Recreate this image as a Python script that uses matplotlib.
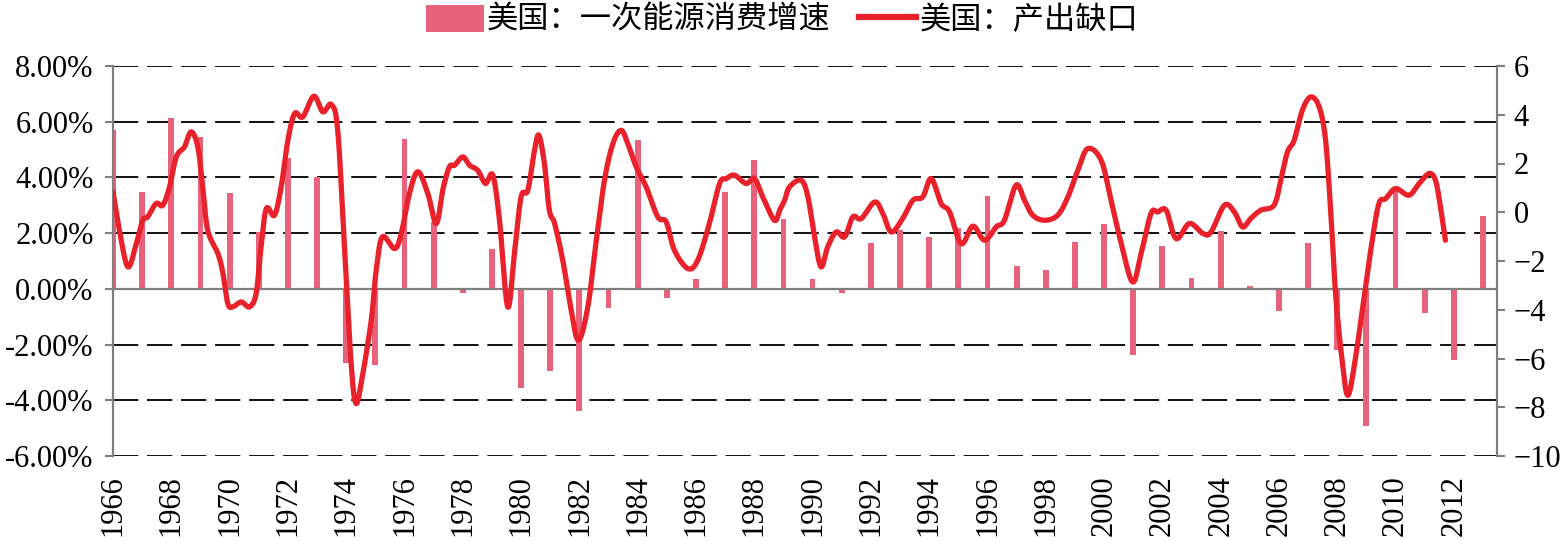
import numpy as np
import matplotlib
matplotlib.use("Agg")
import matplotlib.pyplot as plt
from matplotlib.lines import Line2D
from matplotlib.patches import Patch

# ---------------- data ----------------
years = list(range(1966, 2014))
energy_growth = [5.70, 3.49, 6.13, 5.45, 3.44, 2.05, 4.70, 4.00, -2.66, -2.73,
                 5.38, 2.40, -0.15, 1.44, -3.55, -2.94, -4.40, -0.68, 5.35, -0.33,
                 0.36, 3.46, 4.63, 2.50, 0.36, -0.15, 1.64, 2.12, 1.86, 2.20,
                 3.34, 0.83, 0.66, 1.70, 2.33, -2.37, 1.54, 0.39, 2.06, 0.10,
                 -0.81, 1.66, -2.20, -4.94, 3.55, -0.87, -2.55, 2.63]

gap_t = [1966.00, 1966.22, 1966.51, 1966.80, 1967.02, 1967.19, 1967.48, 1967.71, 1967.94,
         1968.17, 1968.45, 1968.68, 1968.91, 1969.08, 1969.25, 1969.60, 1969.77, 1969.94,
         1970.11, 1970.40, 1970.68, 1970.91, 1971.08, 1971.26, 1971.54, 1971.77, 1972.00,
         1972.23, 1972.51, 1972.89, 1973.20, 1973.49, 1973.71, 1973.94, 1974.17, 1974.34,
         1974.57, 1974.86, 1975.03, 1975.24, 1975.66, 1975.89, 1976.17, 1976.46, 1976.80,
         1977.09, 1977.31, 1977.54, 1977.72, 1978.00, 1978.23, 1978.51, 1978.78, 1979.03,
         1979.26, 1979.54, 1979.77, 1980.00, 1980.23, 1980.46, 1980.61, 1980.80, 1980.97,
         1981.15, 1981.43, 1981.72, 1981.97, 1982.29, 1982.58, 1982.86, 1983.15, 1983.43,
         1983.66, 1983.95, 1984.29, 1984.69, 1984.98, 1985.26, 1985.72, 1986.06, 1986.46,
         1986.81, 1987.04, 1987.32, 1987.72, 1988.01, 1988.29, 1988.69, 1988.87, 1989.04,
         1989.21, 1989.61, 1989.84, 1990.07, 1990.29, 1990.52, 1990.81, 1991.10, 1991.38,
         1991.67, 1992.13, 1992.41, 1992.70, 1993.09, 1993.44, 1993.78, 1994.07, 1994.41,
         1994.70, 1995.10, 1995.50, 1995.90, 1996.30, 1996.58, 1996.98, 1997.27, 1997.55,
         1997.96, 1998.41, 1998.76, 1999.10, 1999.44, 1999.90, 2000.24, 2000.59, 2000.98,
         2001.27, 2001.61, 2001.84, 2002.13, 2002.47, 2002.93, 2003.39, 2003.67, 2004.13,
         2004.47, 2004.75, 2005.03, 2005.37, 2005.83, 2006.06, 2006.29, 2006.52, 2006.80,
         2007.09, 2007.38, 2007.60, 2007.78, 2007.95, 2008.18, 2008.37, 2008.63, 2008.92,
         2009.20, 2009.43, 2009.66, 2010.00, 2010.46, 2010.81, 2011.15, 2011.37, 2011.54,
         2011.71]
gap_v = [0.83, -0.74, -2.24, -1.29, -0.33, -0.19, 0.36, 0.29, 1.04,
         2.27, 2.68, 3.30, 2.68, 1.04, -0.74, -1.70, -2.50, -3.75,
         -3.88, -3.68, -3.88, -3.34, -1.42, 0.15, -0.12, 1.04, 2.95,
         4.05, 3.91, 4.76, 4.12, 4.42, 3.36, -1.42, -6.21, -7.85,
         -6.62, -4.43, -2.38, -1.01, -1.49, -0.87, 0.77, 1.66, 0.77,
         -0.46, 0.90, 1.86, 1.93, 2.27, 1.93, 1.72, 1.18, 1.52,
         -0.33, -3.88, -1.70, 0.63, 0.90, 2.54, 3.16, 2.00, 0.08,
         -0.46, -1.97, -4.02, -5.25, -3.88, -1.15, 1.31, 2.82, 3.36,
         2.82, 1.86, 1.04, -0.19, -0.40, -1.56, -2.31, -1.97, -0.46,
         1.18, 1.38, 1.52, 1.18, 1.38, 0.63, -0.33, 0.08, 0.49,
         1.04, 1.31, 0.63, -1.01, -2.24, -1.42, -0.81, -1.01, -0.19,
         -0.26, 0.42, -0.05, -0.81, -0.26, 0.49, 0.63, 1.38, 0.36,
         0.01, -1.29, -0.57, -1.15, -0.60, -0.33, 1.11, 0.49, -0.12,
         -0.33, -0.12, 0.63, 1.72, 2.61, 2.13, 0.49, -1.29, -2.86,
         -1.70, -0.05, 0.01, 0.08, -1.08, -0.46, -0.87, -0.81, 0.29,
         0.01, -0.60, -0.26, 0.08, 0.29, 1.31, 2.47, 2.95, 4.18,
         4.73, 4.32, 2.95, -0.05, -3.47, -6.21, -7.51, -5.94, -3.47,
         -1.15, 0.36, 0.56, 0.97, 0.70, 1.18, 1.59, 1.31, 0.22,
         -1.15]

left_ticks = [-6, -4, -2, 0, 2, 4, 6, 8]
left_labels = ['-6.00%', '-4.00%', '-2.00%', '0.00%', '2.00%', '4.00%', '6.00%', '8.00%']
right_ticks = [-10, -8, -6, -4, -2, 0, 2, 4, 6]
right_labels = ['\u221210', '\u22128', '\u22126', '\u22124', '\u22122', '0', '2', '4', '6']
xtick_years = list(range(1966, 2013, 2))

label_bar = '美国：一次能源消费增速'
label_line = '美国：产出缺口'

BAR_C = '#E9627B'
LINE_C = '#E8212B'
GREY = '#7F7F7F'


def catmull_rom(x, y, n=12):
    x = np.asarray(x, float)
    y = np.asarray(y, float)
    P = np.column_stack([x, y])
    P = np.vstack([P[0], P, P[-1]])
    out = []
    for i in range(1, len(P) - 2):
        p0, p1, p2, p3 = P[i - 1], P[i], P[i + 1], P[i + 2]
        t = np.linspace(0, 1, n, endpoint=False)[:, None]
        seg = 0.5 * ((2 * p1) + (-p0 + p2) * t + (2 * p0 - 5 * p1 + 4 * p2 - p3) * t ** 2
                     + (-p0 + 3 * p1 - 3 * p2 + p3) * t ** 3)
        out.append(seg)
    out.append(P[-2][None, :])
    out = np.vstack(out)
    return out[:, 0], out[:, 1]


serif = ['Liberation Serif', 'DejaVu Serif']
cjk = ['Noto Sans CJK SC', 'DejaVu Sans']

fig = plt.figure(figsize=(15.67, 5.41), dpi=100)
ax = fig.add_axes([113 / 1567, 1 - 456 / 541, (1497 - 113) / 1567, (456 - 66) / 541])
ax2 = ax.twinx()

# gridlines (dashed) except zero line
for v in left_ticks:
    if v == 0:
        continue
    ax.axhline(v, color='#111111', lw=1.4, dashes=(13, 4.5), zorder=0)

ax.bar(years, energy_growth, width=0.2, color=BAR_C, zorder=2)
ax.axhline(0, color=GREY, lw=1.6, zorder=3)

sx, sy = catmull_rom(gap_t, gap_v)
ax2.plot(sx, sy, color=LINE_C, lw=3.8, solid_capstyle='round', solid_joinstyle='round', zorder=5)

ax.set_xlim(1966, 2013.48)
ax.set_ylim(-6, 8)
ax2.set_ylim(-10, 6)

ax.set_yticks(left_ticks)
ax.set_yticklabels(left_labels, family=serif, fontsize=22)
ax2.set_yticks(right_ticks)
ax2.set_yticklabels(right_labels, family=serif, fontsize=22)
ax.set_xticks(xtick_years)
ax.set_xticklabels([str(y) for y in xtick_years], rotation=90, family=serif, fontsize=22)

ax.tick_params(axis='y', direction='out', length=6, width=1.5, color=GREY, pad=8)
ax2.tick_params(axis='y', direction='out', length=6, width=1.5, color=GREY, pad=6)
ax.tick_params(axis='x', length=0, pad=14)

for a in (ax, ax2):
    for s in ('top', 'bottom'):
        a.spines[s].set_visible(False)
ax.spines['left'].set_color(GREY)
ax.spines['left'].set_linewidth(1.6)
ax2.spines['right'].set_color(GREY)
ax2.spines['right'].set_linewidth(1.6)
ax2.spines['left'].set_visible(False)
ax.spines['right'].set_visible(False)

handles = [Patch(facecolor=BAR_C, edgecolor='none'),
           Line2D([0], [0], color=LINE_C, lw=4.5)]
fig.legend(handles, [label_bar, label_line], loc='upper center',
           bbox_to_anchor=(782 / 1567, 1.045), ncol=2, frameon=False,
           prop={'family': cjk, 'size': 22.5}, handlelength=1.85, handleheight=0.95,
           handletextpad=0.1, columnspacing=0.9)

fig.savefig('out.png', dpi=100)
